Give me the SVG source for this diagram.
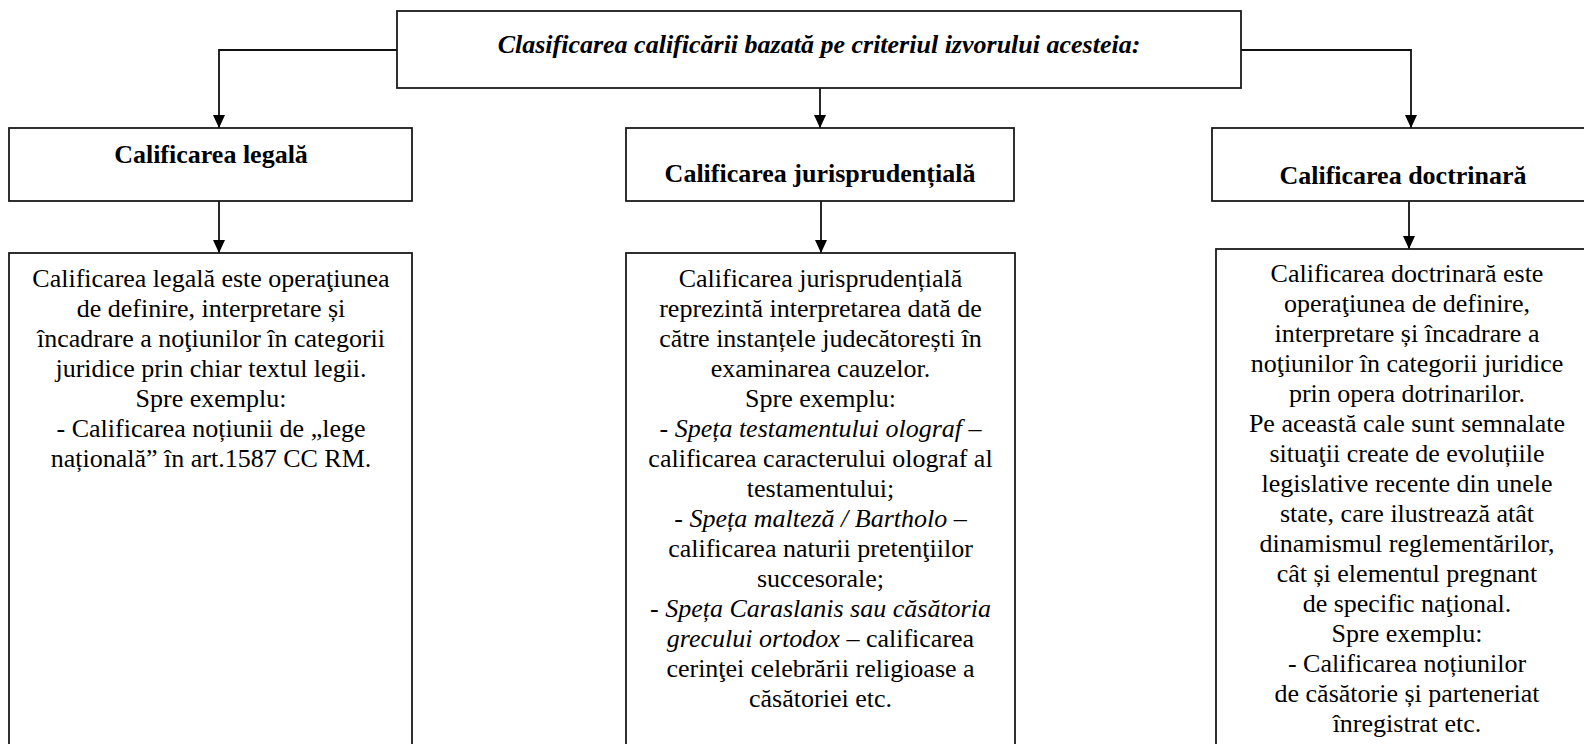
<svg xmlns="http://www.w3.org/2000/svg" width="1584" height="744" viewBox="0 0 1584 744">
<style>
.box{fill:#fff;stroke:#1a1a1a;stroke-width:1.8}
.con{fill:none;stroke:#111;stroke-width:1.8}
text{font-family:"Liberation Serif","Times New Roman",serif;font-size:26px;fill:#000;text-anchor:middle}
.h{font-weight:bold}
.t{font-weight:bold;font-style:italic}
.i{font-style:italic}
</style>
<defs>
<marker id="arr" viewBox="0 0 13 12" refX="13" refY="6" markerWidth="13" markerHeight="12" markerUnits="userSpaceOnUse" orient="auto">
<path d="M0,0 L13,6 L0,12 z" fill="#000"/>
</marker>
</defs>
<g id="connectors">
<path class="con" d="M397,50 H219 V128" marker-end="url(#arr)"/>
<path class="con" d="M820,88 V128" marker-end="url(#arr)"/>
<path class="con" d="M1241,50 H1411 V128" marker-end="url(#arr)"/>
<path class="con" d="M219,201 V253" marker-end="url(#arr)"/>
<path class="con" d="M821,201 V253" marker-end="url(#arr)"/>
<path class="con" d="M1409,201 V249" marker-end="url(#arr)"/>
</g>
<g id="root">
<rect class="box" x="397" y="11" width="844" height="77"/>
<text class="t" x="819" y="53">Clasificarea calificării bazată pe criteriul izvorului acesteia:</text>
</g>
<g id="legal">
<rect class="box" x="9" y="128" width="403" height="73"/>
<text class="h" x="211" y="163">Calificarea legală</text>
</g>
<g id="jurisprudentiala">
<rect class="box" x="626" y="128" width="388" height="73"/>
<text class="h" x="820" y="182">Calificarea jurisprudențială</text>
</g>
<g id="doctrinara">
<rect class="box" x="1212" y="128" width="390" height="73"/>
<text class="h" x="1403" y="184">Calificarea doctrinară</text>
</g>
<g id="legal-desc">
<rect class="box" x="9" y="253" width="403" height="500"/>
<text x="211" y="287">Calificarea legală este operaţiunea</text>
<text x="211" y="317">de definire, interpretare și</text>
<text x="211" y="347">încadrare a noţiunilor în categorii</text>
<text x="211" y="377">juridice prin chiar textul legii.</text>
<text x="211" y="407">Spre exemplu:</text>
<text x="211" y="437">- Calificarea noțiunii de „lege</text>
<text x="211" y="467">națională” în art.1587 CC RM.</text>
</g>
<g id="jurisprudentiala-desc">
<rect class="box" x="626" y="253" width="389" height="500"/>
<text x="820.5" y="287">Calificarea jurisprudențială</text>
<text x="820.5" y="317">reprezintă interpretarea dată de</text>
<text x="820.5" y="347">către instanțele judecătorești în</text>
<text x="820.5" y="377">examinarea cauzelor.</text>
<text x="820.5" y="407">Spre exemplu:</text>
<text x="820.5" y="437">- <tspan class="i">Speța testamentului olograf</tspan> –</text>
<text x="820.5" y="467">calificarea caracterului olograf al</text>
<text x="820.5" y="497">testamentului;</text>
<text x="820.5" y="527">- <tspan class="i">Speța malteză / Bartholo</tspan> –</text>
<text x="820.5" y="557">calificarea naturii pretenţiilor</text>
<text x="820.5" y="587">succesorale;</text>
<text x="820.5" y="617">- <tspan class="i">Speța Caraslanis sau căsătoria</tspan></text>
<text x="820.5" y="647"><tspan class="i">grecului ortodox</tspan> – calificarea</text>
<text x="820.5" y="677">cerinţei celebrării religioase a</text>
<text x="820.5" y="707">căsătoriei etc.</text>
</g>
<g id="doctrinara-desc">
<rect class="box" x="1216" y="249" width="386" height="504"/>
<text x="1407" y="282">Calificarea doctrinară este</text>
<text x="1407" y="312">operaţiunea de definire,</text>
<text x="1407" y="342">interpretare și încadrare a</text>
<text x="1407" y="372">noţiunilor în categorii juridice</text>
<text x="1407" y="402">prin opera dotrinarilor.</text>
<text x="1407" y="432">Pe această cale sunt semnalate</text>
<text x="1407" y="462">situaţii create de evoluțiile</text>
<text x="1407" y="492">legislative recente din unele</text>
<text x="1407" y="522">state, care ilustrează atât</text>
<text x="1407" y="552">dinamismul reglementărilor,</text>
<text x="1407" y="582">cât și elementul pregnant</text>
<text x="1407" y="612">de specific naţional.</text>
<text x="1407" y="642">Spre exemplu:</text>
<text x="1407" y="672">- Calificarea noțiunilor</text>
<text x="1407" y="702">de căsătorie și parteneriat</text>
<text x="1407" y="732">înregistrat etc.</text>
</g>
</svg>
